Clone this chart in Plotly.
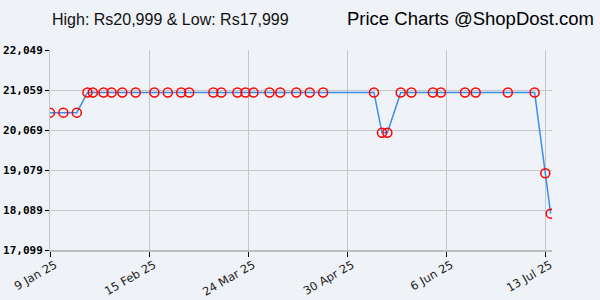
import plotly.graph_objects as go

dates = [
    "2025-01-09", "2025-01-14", "2025-01-19", "2025-01-23", "2025-01-25",
    "2025-01-29", "2025-02-01", "2025-02-05", "2025-02-10", "2025-02-17",
    "2025-02-22", "2025-02-27", "2025-03-02", "2025-03-11", "2025-03-14",
    "2025-03-20", "2025-03-23", "2025-03-26", "2025-04-01", "2025-04-05",
    "2025-04-11", "2025-04-16", "2025-04-21", "2025-05-10", "2025-05-13",
    "2025-05-15", "2025-05-20", "2025-05-24", "2025-06-01", "2025-06-04",
    "2025-06-13", "2025-06-17", "2025-06-29", "2025-07-09", "2025-07-13",
    "2025-07-15",
]
prices = [
    20499, 20499, 20499, 20999, 20999,
    20999, 20999, 20999, 20999, 20999,
    20999, 20999, 20999, 20999, 20999,
    20999, 20999, 20999, 20999, 20999,
    20999, 20999, 20999, 20999, 19999,
    19999, 20999, 20999, 20999, 20999,
    20999, 20999, 20999, 20999, 18999,
    17999,
]
y_ticks = [17099, 18089, 19079, 20069, 21059, 22049]
x_ticks = ["2025-01-09", "2025-02-15", "2025-03-24", "2025-04-30", "2025-06-06", "2025-07-13"]
x_tick_labels = ["9 Jan 25", "15 Feb 25", "24 Mar 25", "30 Apr 25", "6 Jun 25", "13 Jul 25"]
title_left = "High: Rs20,999 & Low: Rs17,999"
title_right = "Price Charts @ShopDost.com"

fig = go.Figure()
fig.add_trace(go.Scatter(
    x=dates, y=prices, mode="lines+markers",
    line=dict(color="#3a8ee8", width=1.5),
    marker=dict(symbol="circle-open", size=9, color="#ff0000", line=dict(width=1.5)),
    hoverinfo="x+y",
))

fig.update_layout(
    width=600, height=300,
    margin=dict(l=50, r=48, t=50, b=50),
    paper_bgcolor="#eff2f6", plot_bgcolor="#eff2f6",
    showlegend=False,
    xaxis=dict(
        type="date",
        automargin=False,
        range=["2025-01-09", "2025-07-15 12:00"],
        tickvals=x_ticks, ticktext=x_tick_labels,
        tickangle=-30,
        tickfont=dict(family="DejaVu Sans", size=11.5, color="#222222"),
        ticks="outside", ticklen=5, tickcolor="#000000", tickwidth=1,
        ticklabelstandoff=-3, ticklabelshift=5,
        showgrid=True, gridcolor="#c6c6c6", gridwidth=1,
        showline=True, linecolor="#bcbcbc", linewidth=2,
        zeroline=False,
    ),
    yaxis=dict(
        automargin=False,
        range=[17099, 22049],
        tickvals=y_ticks, ticktext=[f"{v:,}" for v in y_ticks],
        tickfont=dict(family="DejaVu Sans Mono", size=11, color="#000000", weight="bold"),
        ticks="outside", ticklen=4, tickcolor="#000000", tickwidth=1,
        showgrid=True, gridcolor="#c6c6c6", gridwidth=1,
        showline=True, linecolor="#c6c6c6", linewidth=1,
        zeroline=False,
    ),
    annotations=[
        dict(text=title_left, xref="paper", yref="paper", x=(50 - 50) / 502, y=(250 - 19.5) / 200,
             xanchor="left", yanchor="middle", showarrow=False,
             font=dict(family="Liberation Sans", size=16, color="#111111")),
        dict(text=title_right, xref="paper", yref="paper", x=(596 - 50) / 502, y=(250 - 18.5) / 200,
             xanchor="right", yanchor="middle", showarrow=False,
             font=dict(family="Liberation Sans", size=18.5, color="#000000")),
    ],
)

fig.write_html("out.html")
